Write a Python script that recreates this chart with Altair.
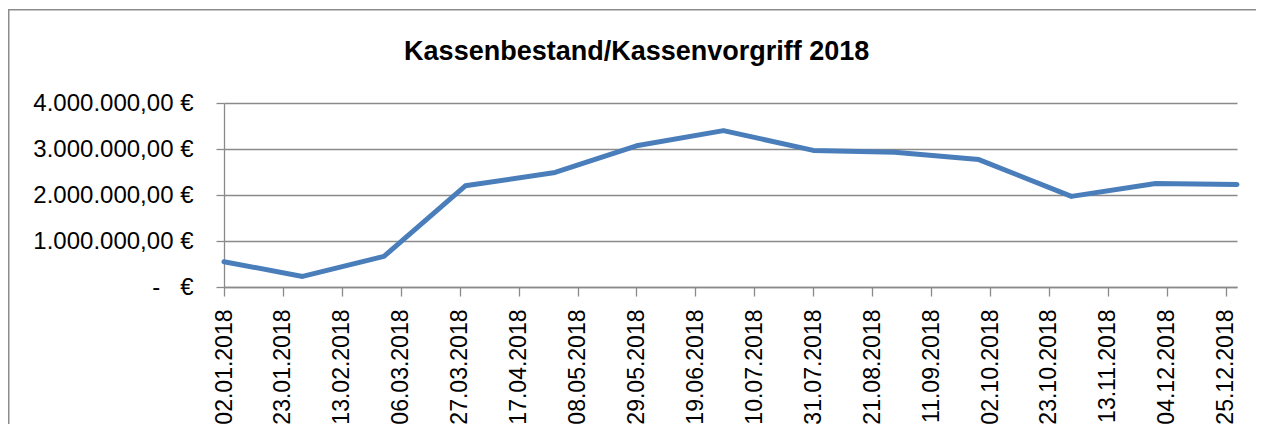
import altair as alt
import pandas as pd

# Data
dates = ["2018-01-02", "2018-01-30", "2018-02-28", "2018-03-29", "2018-04-30",
         "2018-05-29", "2018-06-29", "2018-07-31", "2018-08-29", "2018-09-28",
         "2018-10-31", "2018-11-30", "2018-12-29"]
values = [550000, 230000, 665000, 2200000, 2490000, 3070000, 3400000,
          2970000, 2930000, 2770000, 1970000, 2250000, 2230000]

tick_dates = ["2018-01-02", "2018-01-23", "2018-02-13", "2018-03-06", "2018-03-27",
              "2018-04-17", "2018-05-08", "2018-05-29", "2018-06-19", "2018-07-10",
              "2018-07-31", "2018-08-21", "2018-09-11", "2018-10-02", "2018-10-23",
              "2018-11-13", "2018-12-04", "2018-12-25"]
y_ticks = [0, 1000000, 2000000, 3000000, 4000000]

title_text = "Kassenbestand/Kassenvorgriff 2018"


def dt(s):
    y, m, d = s.split("-")
    return alt.DateTime(year=int(y), month=int(m), date=int(d), utc=True)


df = pd.DataFrame({"Datum": dates, "Wert": values})

FONT = "Liberation Sans"
GRID = "#8a8a8a"

label_expr = (
    "datum.value == 0 ? '-\u00a0\u00a0\u00a0€' : "
    "replace(replace(replace(format(datum.value, ',.2f'), regexp(',', 'g'), '#'), '.', ','), regexp('#', 'g'), '.') + ' €'"
)

line = alt.Chart(df).mark_line(
    color="#4a7ebb", strokeWidth=5, strokeCap="round", strokeJoin="round"
).encode(
    x=alt.X(
        "Datum:T",
        scale=alt.Scale(type="utc", domain=[dt(dates[0]), dt(dates[-1])], nice=False),
        axis=alt.Axis(
            title=None,
            values=[dt(t) for t in tick_dates],
            labelExpr="utcFormat(datum.value, '%d.%m.%Y')",
            labelAngle=270,
            labelAlign="right",
            labelBaseline="middle",
            labelFont=FONT,
            labelFontSize=23,
            labelColor="black",
            labelPadding=13,
            labelOverlap=False,
            labelFlush=False,
            tickSize=9,
            tickColor=GRID,
            tickWidth=1.3,
            domainColor=GRID,
            domainWidth=1.3,
            grid=False,
        ),
    ),
    y=alt.Y(
        "Wert:Q",
        scale=alt.Scale(domain=[0, 4000000], nice=False),
        axis=alt.Axis(
            title=None,
            values=y_ticks,
            labelExpr=label_expr,
            labelFont=FONT,
            labelFontSize=24,
            labelColor="black",
            labelPadding=23,
            tickSize=8,
            tickColor=GRID,
            tickWidth=1.3,
            domainColor=GRID,
            domainWidth=1.3,
            grid=True,
            gridColor=GRID,
            gridWidth=1.3,
        ),
    ),
)

# thin filled bars for the outer chart frame (left and top edge)
frame_left = alt.Chart(pd.DataFrame({"k": [0]})).mark_rect(
    color="#8c8c8c", strokeWidth=0
).encode(
    x=alt.value(-216), x2=alt.value(-214.5), y=alt.value(-94), y2=alt.value(321)
)
frame_top = alt.Chart(pd.DataFrame({"k": [0]})).mark_rect(
    color="#8c8c8c", strokeWidth=0
).encode(
    x=alt.value(-216), x2=alt.value(1032), y=alt.value(-94), y2=alt.value(-92.5)
)
title = alt.Chart(pd.DataFrame({"t": [title_text]})).mark_text(
    font=FONT, fontSize=27, fontWeight="bold", color="black",
    align="center", baseline="alphabetic"
).encode(
    text="t:N", x=alt.value(412.7), y=alt.value(-42.6)
)

chart = alt.layer(frame_left, frame_top, title, line).properties(
    width=1013,
    height=184,
    autosize=alt.AutoSizeParams(type="none"),
    padding={"left": 216, "top": 95, "right": 20, "bottom": 138},
).configure_view(stroke=None)

chart.save("out.html", embed_options={"renderer": "svg", "actions": False})
